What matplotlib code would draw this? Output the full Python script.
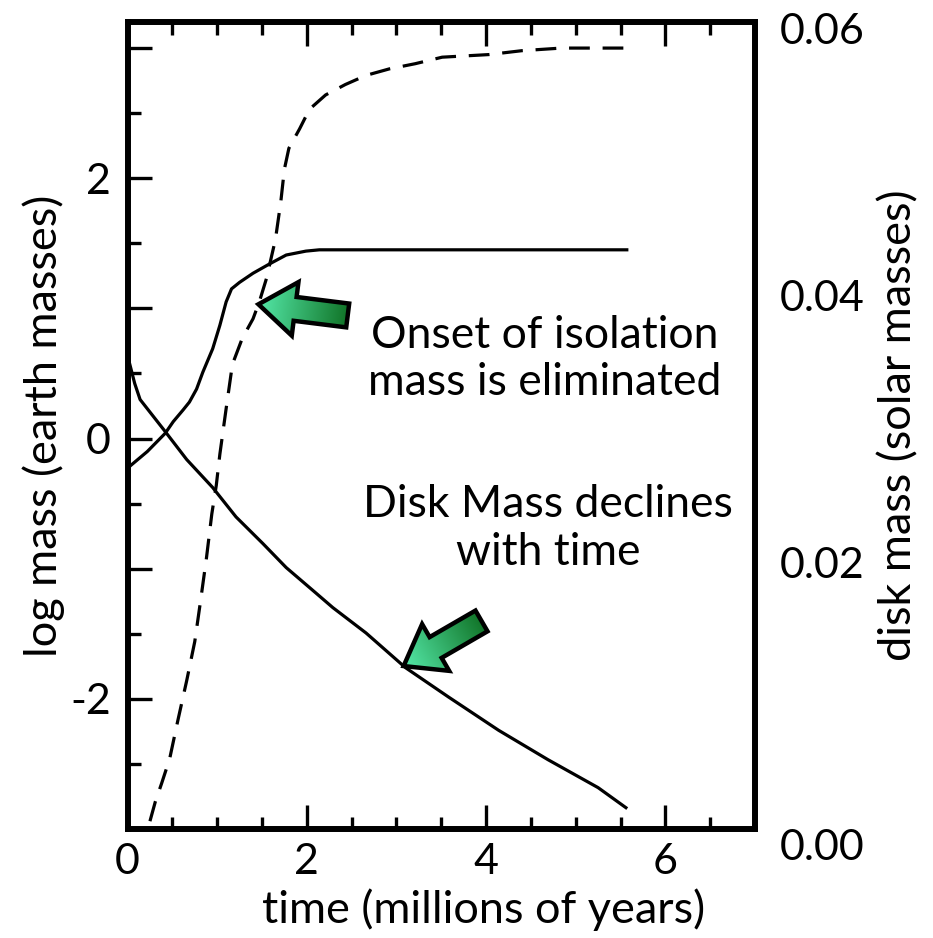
import numpy as np
import matplotlib
matplotlib.use("Agg")
import matplotlib.pyplot as plt
from matplotlib.ticker import MultipleLocator, FuncFormatter
from matplotlib.patches import Polygon

plt.rcParams['font.family'] = ['Lato', 'DejaVu Sans']

# core mass (log earth masses), solid rising curve
t_core = [0, 0.03, 0.22, 0.42, 0.51, 0.62, 0.69, 0.77, 0.84, 0.95, 1.03, 1.10,
          1.16, 1.25, 1.40, 1.58, 1.77, 1.99, 2.14, 5.57]
logm_core = [-0.23, -0.21, -0.10, 0.04, 0.13, 0.22, 0.28, 0.38, 0.51, 0.69, 0.87,
             1.05, 1.15, 1.20, 1.27, 1.34, 1.41, 1.44, 1.45, 1.45]

# total mass (log earth masses), dashed curve
t_gas = [0.25, 0.31, 0.38, 0.47, 0.56, 0.66, 0.75, 0.81, 0.88, 0.94, 0.99, 1.03,
         1.10, 1.17, 1.28, 1.40, 1.47, 1.55, 1.60, 1.65, 1.71, 1.75, 1.80, 1.92,
         2.03, 2.21, 2.43, 2.66, 2.92, 3.21, 3.51, 4.03, 4.40, 4.84, 5.55]
logm_gas = [-2.94, -2.79, -2.65, -2.46, -2.17, -1.86, -1.56, -1.27, -0.92, -0.58,
            -0.36, -0.12, 0.23, 0.57, 0.77, 0.92, 1.05, 1.23, 1.38, 1.53, 1.82,
            2.07, 2.23, 2.38, 2.53, 2.64, 2.72, 2.79, 2.84, 2.88, 2.93, 2.95, 2.98,
            3.00, 3.00]

# disk mass (solar masses), declining solid curve
t_disk = [0, 0.08, 0.14, 0.42, 0.66, 0.95, 1.21, 1.51, 1.77, 2.10, 2.29, 2.66,
          3.10, 3.58, 4.14, 4.69, 5.25, 5.56]
m_disk = [0.0355, 0.0334, 0.0322, 0.0298, 0.0277, 0.0256, 0.0234, 0.0214, 0.0196,
          0.0177, 0.0166, 0.0147, 0.0121, 0.0099, 0.0074, 0.0052, 0.0031, 0.0016]

disk_ticks = [0.0, 0.02, 0.04, 0.06]

W, H = 933, 938
fig = plt.figure(figsize=(W / 100, H / 100), dpi=100)
ax = fig.add_axes([0.1367, 0.1162, 0.6725, 0.8603])

lw = 2.3
ax.plot(t_core, logm_core, color='black', lw=lw)
ax.plot(t_gas, logm_gas, color='black', lw=lw, dashes=(6.5, 4))
ax.set_xlim(0, 7)
ax.set_ylim(-3, 3.2)

ax.xaxis.set_major_locator(MultipleLocator(2))
ax.xaxis.set_minor_locator(MultipleLocator(0.5))
ax.yaxis.set_major_locator(MultipleLocator(1))
ax.yaxis.set_minor_locator(MultipleLocator(0.5))
ax.yaxis.set_major_formatter(FuncFormatter(
    lambda v, p: str(int(round(v))) if int(round(v)) % 2 == 0 else ''))
ax.xaxis.set_major_formatter(FuncFormatter(lambda v, p: '%d' % v))

ax.tick_params(which='both', direction='in', top=True, right=True, width=2.4,
               labelsize=31)
ax.tick_params(which='major', length=17)
ax.tick_params(which='minor', length=9)
ax.tick_params(axis='x', pad=10)
ax.tick_params(axis='y', pad=12)
for s in ax.spines.values():
    s.set_linewidth(4.3)

ax.set_xlabel('time (millions of years)', fontsize=32.5)
ax.xaxis.set_label_coords(0.567, -0.074)
ax.set_ylabel('log mass (earth masses)', fontsize=32.5, labelpad=4)

ax2 = ax.twinx()
ax2.plot(t_disk, m_disk, color='black', lw=lw)
ax2.set_ylim(0, 0.0605)
ax2.set_yticks(disk_ticks)
ax2.yaxis.set_major_formatter(FuncFormatter(lambda v, p: '%.2f' % v))
ax2.tick_params(axis='y', length=0, pad=18, labelsize=31)
for s in ax2.spines.values():
    s.set_visible(False)
ax2.set_ylabel('disk mass (solar masses)', fontsize=32.5, labelpad=10)
ax2.get_yticklabels()[0].set_verticalalignment('top')

ax.text(4.65, 0.61, 'Onset of isolation\nmass is eliminated', fontsize=32,
        ha='center', va='center', linespacing=1.2)
ax.text(4.69, -0.69, 'Disk Mass declines\nwith time', fontsize=32,
        ha='center', va='center', linespacing=1.2)

# fat gradient arrows, drawn in pixel space on a full-figure overlay
ov = fig.add_axes([0, 0, 1, 1], zorder=5)
ov.set_xlim(0, W)
ov.set_ylim(0, H)
ov.axis('off')

c_tip = np.array([0.33, 0.91, 0.66])
c_tail = np.array([0.07, 0.46, 0.16])


def fat_arrow(tip, direction, length=90, head_len=37, head_w=27, shaft_w=12):
    tx, ty = tip
    d = np.array(direction, float)
    d /= np.hypot(*d)
    n = np.array([-d[1], d[0]])
    local = [(0, 0), (head_len, head_w), (head_len, shaft_w), (length, shaft_w),
             (length, -shaft_w), (head_len, -shaft_w), (head_len, -head_w)]
    pts = np.array([[tx + u * d[0] + v * n[0], ty + u * d[1] + v * n[1]]
                    for u, v in local])
    poly = Polygon(pts, closed=True, facecolor='none', edgecolor='black',
                   lw=3.2, joinstyle='miter', zorder=3)
    ov.add_patch(poly)
    x0, y0 = pts.min(axis=0) - 2
    x1, y1 = pts.max(axis=0) + 2
    xs = np.linspace(x0, x1, 120)
    ys = np.linspace(y0, y1, 120)
    X, Y = np.meshgrid(xs, ys)
    u = ((X - tx) * d[0] + (Y - ty) * d[1]) / length
    u = np.clip(u, 0, 1)[..., None]
    img = c_tip * (1 - u) + c_tail * u
    im = ov.imshow(img, extent=(x0, x1, y0, y1), origin='lower', aspect='auto',
                   zorder=2, interpolation='bilinear')
    im.set_clip_path(poly)


tip1_t = 1.46
tip1 = ax.transData.transform((tip1_t, np.interp(tip1_t, t_gas, logm_gas)))
tip2_t = 3.08
tip2 = ax2.transData.transform((tip2_t, np.interp(tip2_t, t_disk, m_disk)))
fat_arrow(tip1, (88, -11))
fat_arrow(tip2, (76, 44))
ov.set_xlim(0, W)
ov.set_ylim(0, H)

fig.savefig('out.png', dpi=100)
